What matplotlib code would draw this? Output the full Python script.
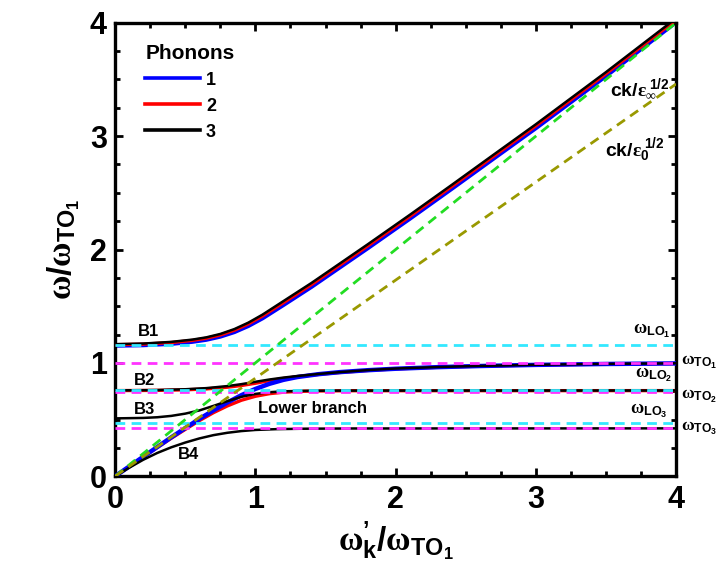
import matplotlib
matplotlib.use('Agg')
import matplotlib.pyplot as plt

plt.rcParams['font.family'] = ['Liberation Sans', 'DejaVu Sans']
plt.rcParams['font.weight'] = 'bold'
plt.rcParams['mathtext.fontset'] = 'custom'
plt.rcParams['mathtext.rm'] = 'Liberation Serif'
plt.rcParams['mathtext.it'] = 'Liberation Serif:italic'
plt.rcParams['mathtext.bf'] = 'Liberation Sans:bold'

# ---- data ----
# upper branch B1 (1, 2, 3 phonons nearly coincide)
b1_x = [0, 0.2, 0.4, 0.55, 0.65, 0.75, 0.85, 0.95, 1.05, 1.2, 1.4, 1.6, 1.8, 2.1, 2.4, 2.7, 3.0, 3.5, 4.0]
b1_black = [1.165, 1.17, 1.185, 1.205, 1.225, 1.255, 1.298, 1.355, 1.425, 1.545, 1.705, 1.875, 2.045,
            2.305, 2.57, 2.838, 3.105, 3.565, 4.04]
b1_red = [1.16, 1.165, 1.179, 1.198, 1.217, 1.246, 1.288, 1.344, 1.413, 1.531, 1.691, 1.861, 2.031,
          2.291, 2.556, 2.824, 3.091, 3.551, 4.026]
b1_blue = [1.153, 1.157, 1.169, 1.187, 1.205, 1.233, 1.273, 1.327, 1.394, 1.512, 1.672, 1.842, 2.012,
           2.272, 2.537, 2.805, 3.072, 3.532, 4.007]

# 1 phonon: lower branch
blue_low_x = [0, 0.2, 0.4, 0.5, 0.6, 0.7, 0.8, 0.9, 1.0, 1.1, 1.2, 1.3, 1.45, 1.6, 1.8, 2.0, 2.3, 2.6, 3.0, 3.5, 4.0]
blue_low_y = [0, 0.172, 0.343, 0.425, 0.505, 0.58, 0.65, 0.715, 0.77, 0.815, 0.85, 0.875, 0.9, 0.918, 0.935,
              0.948, 0.962, 0.972, 0.982, 0.99, 0.995]

# 2 phonons: lower and middle branches
red_low_x = [0, 0.2, 0.4, 0.5, 0.6, 0.7, 0.8, 0.9, 1.0, 1.1, 1.2, 1.3, 1.45, 1.7, 4.0]
red_low_y = [0, 0.17, 0.335, 0.413, 0.49, 0.56, 0.62, 0.67, 0.705, 0.728, 0.741, 0.748, 0.752, 0.754, 0.755]
mid_x = [0, 0.3, 0.5, 0.65, 0.8, 0.9, 1.0, 1.1, 1.2, 1.3, 1.45, 1.6, 1.8, 2.0, 2.3, 2.6, 3.0, 3.5, 4.0]
red_mid_y = [0.755, 0.757, 0.762, 0.77, 0.785, 0.8, 0.82, 0.843, 0.862, 0.878, 0.898, 0.915, 0.933, 0.947,
             0.961, 0.971, 0.981, 0.989, 0.994]

# 3 phonons: B2, B3, B4
b2_y = [0.757, 0.76, 0.767, 0.777, 0.795, 0.812, 0.833, 0.853, 0.87, 0.884, 0.902, 0.918, 0.936, 0.95,
        0.963, 0.973, 0.983, 0.991, 0.996]
b3_x = [0, 0.2, 0.3, 0.4, 0.5, 0.6, 0.7, 0.8, 0.9, 1.0, 1.1, 1.2, 1.35, 1.6, 4.0]
b3_y = [0.51, 0.514, 0.52, 0.532, 0.552, 0.58, 0.62, 0.662, 0.7, 0.726, 0.741, 0.749, 0.753, 0.755, 0.756]
b4_x = [0, 0.1, 0.2, 0.3, 0.4, 0.5, 0.6, 0.7, 0.8, 0.9, 1.0, 1.15, 1.35, 1.7, 4.0]
b4_y = [0, 0.075, 0.145, 0.205, 0.255, 0.297, 0.333, 0.362, 0.383, 0.398, 0.408, 0.415, 0.419, 0.421, 0.422]

# reference lines
light_x = [0, 4]
light_inf = [0, 4.0]     # ck/eps_inf^1/2
light_0 = [0, 3.46]      # ck/eps_0^1/2
w_lo = [1.157, 0.757, 0.468]
w_to = [1.0, 0.745, 0.428]

fig = plt.figure(figsize=(7.2, 5.85), dpi=100)
ax = fig.add_axes([0.160, 0.186, 0.779, 0.775])

lw_b, lw_r, lw_k = 3.2, 2.4, 1.8
kw = dict(solid_joinstyle='round', solid_capstyle='butt')
ax.plot(red_low_x, red_low_y, color='red', lw=lw_r, zorder=2, **kw)
ax.plot(mid_x, red_mid_y, color='red', lw=lw_r, zorder=2, **kw)
ax.plot(b1_x, b1_red, color='red', lw=lw_r, zorder=3, **kw)
ax.plot(blue_low_x, blue_low_y, color='blue', lw=lw_b, zorder=3, **kw)
ax.plot(b1_x, b1_blue, color='blue', lw=lw_b, zorder=2, **kw)
ax.plot(b1_x, b1_black, color='black', lw=lw_k, zorder=4, **kw)
ax.plot(mid_x, b2_y, color='black', lw=lw_k, zorder=4, **kw)
ax.plot(b3_x, b3_y, color='black', lw=lw_k, zorder=4, **kw)
ax.plot(b4_x, b4_y, color='black', lw=lw_k, zorder=4, **kw)

dash = (3.5, 2.3)
for v in w_lo:
    ax.axhline(v, color='#33e8ff', lw=2, dashes=dash, zorder=6)
for v in w_to:
    ax.axhline(v, color='#ff33ff', lw=2, dashes=dash, zorder=5)
ax.plot(light_x, light_inf, color='#22dd22', lw=2, dashes=dash, zorder=6)
ax.plot(light_x, light_0, color='#999900', lw=2, dashes=dash, zorder=6)

# legend
h1, = ax.plot([], [], color='blue', lw=2.6)
h2, = ax.plot([], [], color='red', lw=2.6)
h3, = ax.plot([], [], color='black', lw=2.6)
leg = ax.legend([h1, h2, h3], ['1', '2', '3'], title='Phonons', frameon=False,
                loc='upper left', bbox_to_anchor=(0.025, 0.99), fontsize=13,
                handlelength=3.0, handletextpad=0.35, labelspacing=0.5,
                title_fontproperties={'weight': 'bold', 'size': 15})
leg._legend_box.align = 'left'

# annotations
ax.text(0.16, 1.28, 'B1', fontsize=12, fontweight='bold', va='center')
ax.text(0.13, 0.84, 'B2', fontsize=12, fontweight='bold', va='center')
ax.text(0.13, 0.59, 'B3', fontsize=12, fontweight='bold', va='center')
ax.text(0.45, 0.195, 'B4', fontsize=12, fontweight='bold', va='center')
ax.text(1.02, 0.60, 'Lower branch', fontsize=12, fontweight='bold', va='center')

ax.text(3.53, 3.36, r'$\mathbf{ck/}\mathrm{\varepsilon}_{\infty}^{\ \mathbf{1/2}}$',
        fontsize=14, va='baseline')
ax.text(3.49, 2.82, r'$\mathbf{ck/}\mathrm{\varepsilon}_{\mathbf{0}}^{\ \mathbf{1/2}}$',
        fontsize=14, va='baseline')

ax.text(3.69, 1.26, r'$\mathrm{\omega}_{\mathbf{LO}_{\mathbf{1}}}$', fontsize=13, va='baseline')
ax.text(3.71, 0.87, r'$\mathrm{\omega}_{\mathbf{LO}_{\mathbf{2}}}$', fontsize=13, va='baseline')
ax.text(3.67, 0.55, r'$\mathrm{\omega}_{\mathbf{LO}_{\mathbf{3}}}$', fontsize=13, va='baseline')
ax.text(4.035, 0.98, r'$\mathrm{\omega}_{\mathbf{TO}_{\mathbf{1}}}$', fontsize=12.5, va='baseline', clip_on=False)
ax.text(4.035, 0.68, r'$\mathrm{\omega}_{\mathbf{TO}_{\mathbf{2}}}$', fontsize=12.5, va='baseline', clip_on=False)
ax.text(4.035, 0.40, r'$\mathrm{\omega}_{\mathbf{TO}_{\mathbf{3}}}$', fontsize=12.5, va='baseline', clip_on=False)

ax.set_xlim(0, 4)
ax.set_ylim(0, 4)
ax.set_xticks([0, 1, 2, 3, 4])
ax.set_yticks([0, 1, 2, 3, 4])
ax.set_xticks([i * 0.25 for i in range(17)], minor=True)
ax.set_yticks([i * 0.25 for i in range(17)], minor=True)
ax.tick_params(which='both', direction='in', top=True, right=True, width=2)
ax.tick_params(which='major', length=6, labelsize=22, pad=6)
ax.tick_params(which='minor', length=3.5)
for lab in ax.get_xticklabels() + ax.get_yticklabels():
    lab.set_fontweight('bold')
for s in ax.spines.values():
    s.set_linewidth(2.4)

ax.set_xlabel("$\\mathrm{\\omega}^{\\mathbf{\u2019}}_{\\mathbf{k}}\\mathbf{/}\\mathrm{\\omega}_{\\mathbf{TO}_{\\mathbf{1}}}$",
              fontsize=24, labelpad=4)
ax.set_ylabel(r'$\mathrm{\omega}\mathbf{/}\mathrm{\omega}_{\mathbf{TO}_{\mathbf{1}}}$',
              fontsize=24, labelpad=6)

fig.savefig('out.png', dpi=100)
